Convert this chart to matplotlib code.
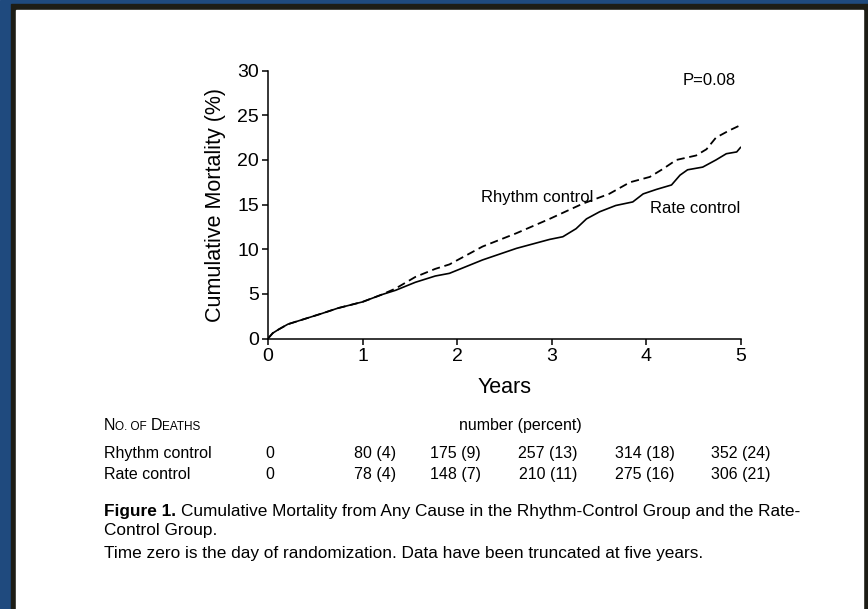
import matplotlib
matplotlib.use("Agg")
import matplotlib.pyplot as plt
from matplotlib.patches import Rectangle

plt.rcParams['font.family'] = ['Liberation Sans', 'DejaVu Sans']

# Kaplan-Meier style cumulative mortality
years_rhythm = [0, 0.05, 0.11, 0.21, 0.39, 0.57, 0.74, 1.0, 1.2, 1.35, 1.56, 1.77,
                1.92, 2.27, 2.63, 2.98, 3.33, 3.61, 3.83, 4.04, 4.18, 4.32, 4.53,
                4.64, 4.74, 4.88, 5.0]
mort_rhythm = [0, 0.6, 1.0, 1.6, 2.2, 2.8, 3.4, 4.1, 4.9, 5.6, 6.9, 7.8,
               8.3, 10.3, 11.8, 13.4, 15.1, 16.2, 17.5, 18.1, 19.0, 20.0, 20.5,
               21.2, 22.5, 23.3, 23.9]

years_rate = [0, 0.05, 0.11, 0.21, 0.39, 0.57, 0.74, 1.0, 1.2, 1.35, 1.56, 1.77,
              1.92, 2.27, 2.63, 2.98, 3.12, 3.26, 3.37, 3.51, 3.68, 3.86, 3.97,
              4.11, 4.27, 4.36, 4.44, 4.60, 4.74, 4.85, 4.96, 5.0]
mort_rate = [0, 0.6, 1.0, 1.6, 2.2, 2.8, 3.4, 4.1, 4.9, 5.4, 6.3, 7.0,
             7.3, 8.8, 10.1, 11.1, 11.4, 12.3, 13.4, 14.2, 14.9, 15.3, 16.2,
             16.7, 17.2, 18.3, 18.9, 19.2, 20.0, 20.7, 20.9, 21.4]

# deaths table
table_years = [0, 1, 2, 3, 4, 5]
deaths_rhythm = ["0", "80 (4)", "175 (9)", "257 (13)", "314 (18)", "352 (24)"]
deaths_rate = ["0", "78 (4)", "148 (7)", "210 (11)", "275 (16)", "306 (21)"]

W, H = 868, 609
fig = plt.figure(figsize=(W / 100, H / 100), dpi=100)

# page frame
fig.patches.append(Rectangle((0, 0), 1, 1, transform=fig.transFigure, color="#1f4a7e", zorder=-3))
fig.patches.append(Rectangle((11 / W, 0), 1, (H - 4) / H, transform=fig.transFigure,
                             color="#1d1d16", zorder=-2))
fig.patches.append(Rectangle((16 / W, 0), (863 - 16) / W, (H - 10) / H, transform=fig.transFigure,
                             color="white", zorder=-1))

ax = fig.add_axes([268 / W, 1 - 338.5 / H, (740.5 - 268) / W, (338.5 - 70.7) / H])
ax.patch.set_alpha(0)
ax.plot(years_rhythm, mort_rhythm, color="black", lw=1.3, linestyle=(0, (4.5, 2.6)))
ax.plot(years_rate, mort_rate, color="black", lw=1.2)

ax.set_xlim(0, 5)
ax.set_ylim(0, 30)
ax.set_xticks(range(6))
ax.set_yticks(range(0, 31, 5))
for s in ["top", "right"]:
    ax.spines[s].set_visible(False)
for s in ["left", "bottom"]:
    ax.spines[s].set_linewidth(1.1)
ax.tick_params(length=4.5, width=1.1, labelsize=14, pad=2)
ax.set_xlabel("Years", fontsize=15.5, labelpad=9)
ax.set_ylabel("Cumulative Mortality (%)", fontsize=15.5, labelpad=8)

ax.text(0.99, 0.99, "P=0.08", transform=ax.transAxes, ha="right", va="top", fontsize=12)
ax.text(2.25, 15.8, "Rhythm control", ha="left", va="center", fontsize=12)
ax.text(5.0, 14.6, "Rate control", ha="right", va="center", fontsize=12)

fs_tab = 11.5
renderer = fig.canvas.get_renderer()


def run_text(x_pix, y_pix, parts):
    # parts: list of (text, fontsize, weight), laid out one after another on a baseline
    for txt, fs, wt in parts:
        t = fig.text(x_pix / W, 1 - y_pix / H, txt, fontsize=fs, fontweight=wt, va="baseline")
        x_pix += t.get_window_extent(renderer).width


run_text(104, 430, [("N", fs_tab, "normal"), ("O. OF ", 8.5, "normal"),
                    ("D", fs_tab, "normal"), ("EATHS", 8.5, "normal")])
fig.text(520 / W, 1 - 430 / H, "number (percent)", fontsize=fs_tab, ha="center", va="baseline")
col_shift = [0.02, 0.13, -0.02, -0.04, -0.01, 0.0]
for row_y, name, vals in [(458, "Rhythm control", deaths_rhythm), (479, "Rate control", deaths_rate)]:
    fig.text(104 / W, 1 - row_y / H, name, fontsize=fs_tab, va="baseline")
    for yr, sh, v in zip(table_years, col_shift, vals):
        x_pix = ax.transData.transform((yr + sh, 0))[0]
        fig.text(x_pix / W, 1 - row_y / H, v, fontsize=fs_tab, ha="center", va="baseline")

fs_cap = 12.4
run_text(104, 516, [("Figure 1. ", fs_cap, "bold"),
                    ("Cumulative Mortality from Any Cause in the Rhythm-Control Group and the Rate-",
                     fs_cap, "normal")])
fig.text(104 / W, 1 - 535 / H, "Control Group.", fontsize=fs_cap, va="baseline")
fig.text(104 / W, 1 - 558 / H, "Time zero is the day of randomization. Data have been truncated at five years.",
         fontsize=fs_cap, va="baseline")

fig.savefig("out.png", dpi=100)
